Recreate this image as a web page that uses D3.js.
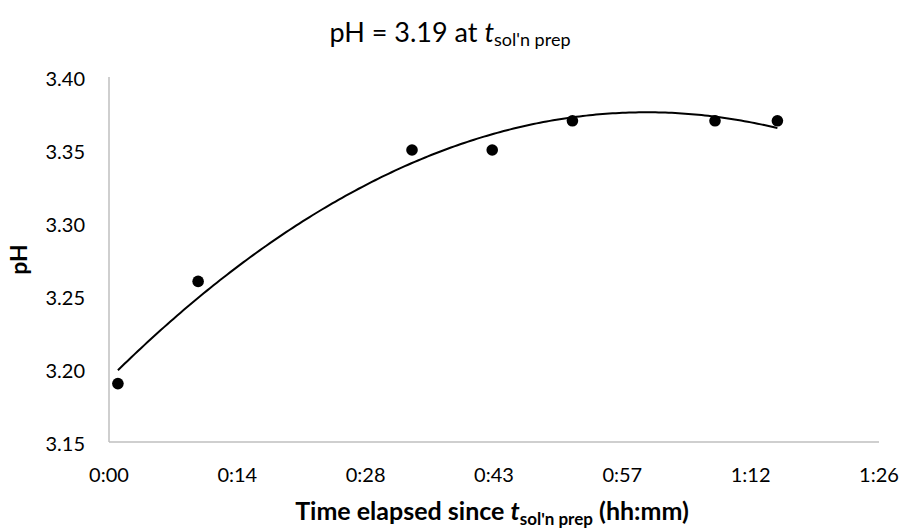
<!DOCTYPE html>
<html>
<head>
<meta charset="utf-8">
<script src="https://cdn.jsdelivr.net/npm/d3@7"></script>
<style>
  html, body { margin: 0; padding: 0; background: #fff; }
  svg { display: block; font-family: Lato, "Open Sans", sans-serif; }
</style>
</head>
<body>
<svg id="chart" width="904" height="529"></svg>
<script>
// Elapsed time since solution prep (minutes) and measured pH
const minutesElapsed = [1, 10, 34, 43, 52, 68, 75];
const phValues = [3.19, 3.26, 3.35, 3.35, 3.37, 3.37, 3.37];

// Axis ticks: x every 0.01 day (14.4 min), shown as h:mm
const xTickMinutes = [0, 14.4, 28.8, 43.2, 57.6, 72, 86.4];
const xTickLabels = ["0:00", "0:14", "0:28", "0:43", "0:57", "1:12", "1:26"];
const yTicks = [3.15, 3.20, 3.25, 3.30, 3.35, 3.40];

const svg = d3.select("#chart");
const W = 904, H = 529;
const margin = { left: 109, right: W - 879, top: 77, bottom: H - 442 };

const x = d3.scaleLinear().domain([0, 86.4]).range([margin.left, W - margin.right]);
const y = d3.scaleLinear().domain([3.15, 3.40]).range([H - margin.bottom, margin.top]);

// Least-squares quadratic trendline
function quadFit(xs, ys) {
  const n = xs.length;
  const s = [0, 0, 0, 0, 0], t = [0, 0, 0];
  for (let i = 0; i < n; i++) {
    const xi = xs[i], yi = ys[i];
    for (let k = 0; k <= 4; k++) s[k] += Math.pow(xi, k);
    for (let k = 0; k <= 2; k++) t[k] += yi * Math.pow(xi, k);
  }
  const A = [[s[0], s[1], s[2], t[0]], [s[1], s[2], s[3], t[1]], [s[2], s[3], s[4], t[2]]];
  for (let c = 0; c < 3; c++) {
    for (let r = c + 1; r < 3; r++) {
      const f = A[r][c] / A[c][c];
      for (let k = c; k < 4; k++) A[r][k] -= f * A[c][k];
    }
  }
  const coef = [0, 0, 0];
  for (let r = 2; r >= 0; r--) {
    let v = A[r][3];
    for (let k = r + 1; k < 3; k++) v -= A[r][k] * coef[k];
    coef[r] = v / A[r][r];
  }
  return coef;
}
const [c0, c1, c2] = quadFit(minutesElapsed, phValues);
const xMin = d3.min(minutesElapsed), xMax = d3.max(minutesElapsed);
const trend = d3.range(0, 201).map(i => {
  const m = xMin + (xMax - xMin) * i / 200;
  return [m, c0 + c1 * m + c2 * m * m];
});

// Axis lines
const axisColor = "#bfbfbf";
svg.append("line")
  .attr("x1", x(0)).attr("x2", x(0))
  .attr("y1", y(3.40)).attr("y2", y(3.15))
  .attr("stroke", axisColor).attr("stroke-width", 1.5);
svg.append("line")
  .attr("x1", x(0)).attr("x2", x(86.4))
  .attr("y1", y(3.15)).attr("y2", y(3.15))
  .attr("stroke", axisColor).attr("stroke-width", 1.5);

// Tick labels
svg.append("g").selectAll("text").data(yTicks).join("text")
  .attr("x", 85).attr("y", d => y(d) + 0.5)
  .attr("text-anchor", "end").attr("dominant-baseline", "central")
  .attr("font-size", 20).attr("fill", "#000")
  .text(d => d.toFixed(2));

svg.append("g").selectAll("text").data(xTickMinutes).join("text")
  .attr("x", d => x(d)).attr("y", 474)
  .attr("text-anchor", "middle").attr("dominant-baseline", "central")
  .attr("font-size", 20).attr("fill", "#000")
  .text((d, i) => xTickLabels[i]);

// Trendline
svg.append("path")
  .datum(trend)
  .attr("fill", "none").attr("stroke", "#000").attr("stroke-width", 2)
  .attr("d", d3.line().x(d => x(d[0])).y(d => y(d[1])));

// Data points
svg.append("g").selectAll("circle").data(minutesElapsed).join("circle")
  .attr("cx", d => x(d)).attr("cy", (d, i) => y(phValues[i]))
  .attr("r", 5.8).attr("fill", "#000");

// Chart title
const title = svg.append("text")
  .attr("x", 450).attr("y", 42)
  .attr("text-anchor", "middle").attr("font-size", 27).attr("fill", "#000");
title.append("tspan").text("pH = 3.19 at ");
title.append("tspan").attr("font-style", "italic").text("t");
title.append("tspan").attr("font-size", 18).attr("dy", 4).text("sol'n prep");

// X axis title
const xt = svg.append("text")
  .attr("x", 492).attr("y", 520)
  .attr("text-anchor", "middle").attr("font-size", 25).attr("font-weight", "bold").attr("fill", "#000");
xt.append("tspan").text("Time elapsed since ");
xt.append("tspan").attr("font-style", "italic").text("t");
xt.append("tspan").attr("font-size", 17).attr("dy", 5).text("sol'n prep");
xt.append("tspan").attr("dy", -5).text(" (hh:mm)");

// Y axis title
svg.append("text")
  .attr("transform", `translate(27, ${(y(3.40) + y(3.15)) / 2}) rotate(-90)`)
  .attr("text-anchor", "middle")
  .attr("font-size", 23).attr("font-weight", "bold").attr("fill", "#000")
  .text("pH");
</script>
</body>
</html>
